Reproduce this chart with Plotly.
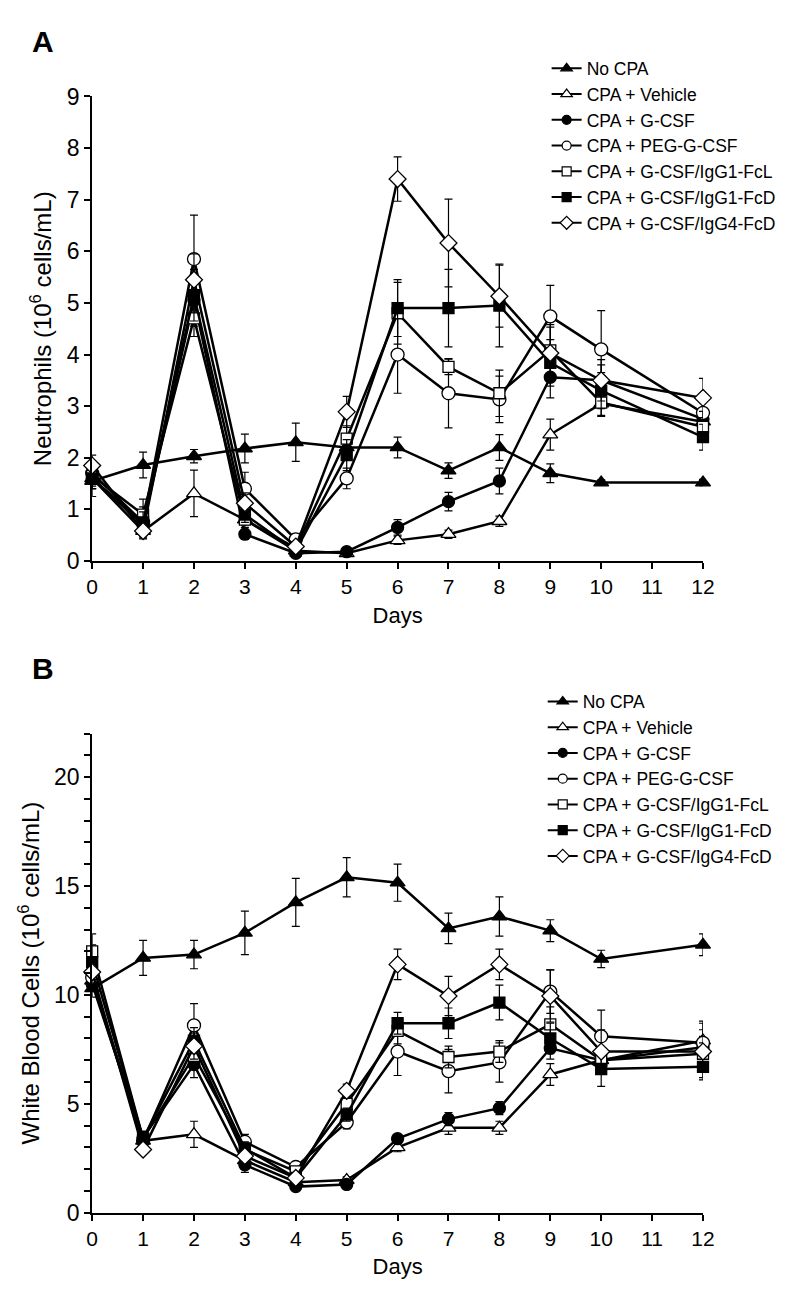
import plotly.graph_objects as go

days = [0, 1, 2, 3, 4, 5, 6, 7, 8, 9, 10, 12]
x_ticks = list(range(0, 13))

names = ["No CPA", "CPA + Vehicle", "CPA + G-CSF", "CPA + PEG-G-CSF",
         "CPA + G-CSF/IgG1-FcL", "CPA + G-CSF/IgG1-FcD", "CPA + G-CSF/IgG4-FcD"]

# Panel A: Neutrophils (10^6 cells/mL)
A_nocpa = [1.55, 1.86, 2.03, 2.18, 2.30, 2.20, 2.20, 1.75, 2.20, 1.70, 1.52, 1.52]
A_nocpa_err = [0.30, 0.25, 0.13, 0.28, 0.37, 0.15, 0.20, 0.15, 0.25, 0.18, 0.05, 0.06]
A_vehicle = [1.60, 0.58, 1.31, 0.80, 0.20, 0.15, 0.40, 0.52, 0.77, 2.45, 3.05, 2.70]
A_vehicle_err = [0.20, 0.10, 0.45, 0.10, 0.05, 0.05, 0.08, 0.08, 0.10, 0.30, 0.25, 0.20]
A_gcsf = [1.60, 0.70, 5.05, 0.52, 0.15, 0.18, 0.65, 1.15, 1.55, 3.56, 3.50, 2.75]
A_gcsf_err = [0.20, 0.15, 0.50, 0.10, 0.05, 0.05, 0.15, 0.18, 0.25, 0.40, 0.30, 0.20]
A_peg = [1.70, 0.75, 5.85, 1.40, 0.42, 1.60, 4.00, 3.25, 3.13, 4.74, 4.10, 2.87]
A_peg_err = [0.20, 0.30, 0.85, 0.32, 0.10, 0.20, 0.75, 0.67, 0.45, 0.60, 0.75, 0.30]
A_fcl = [1.65, 0.90, 4.70, 0.80, 0.25, 2.37, 4.80, 3.76, 3.25, 4.08, 3.07, 2.60]
A_fcl_err = [0.20, 0.30, 0.35, 0.15, 0.05, 0.25, 0.60, 0.15, 0.45, 0.50, 0.25, 0.30]
A_fcd = [1.60, 0.75, 5.15, 0.90, 0.20, 2.05, 4.90, 4.90, 4.95, 3.84, 3.30, 2.40]
A_fcd_err = [0.20, 0.20, 0.50, 0.15, 0.05, 0.30, 0.55, 0.75, 0.80, 0.45, 0.35, 0.25]
A_igg4 = [1.85, 0.58, 5.45, 1.12, 0.28, 2.89, 7.40, 6.16, 5.13, 4.03, 3.50, 3.16]
A_igg4_err = [0.20, 0.15, 0.50, 0.20, 0.05, 0.30, 0.43, 0.85, 0.60, 0.50, 0.40, 0.38]

# Panel B: White Blood Cells (10^6 cells/mL)
B_nocpa = [10.30, 11.70, 11.85, 12.85, 14.25, 15.40, 15.15, 13.05, 13.60, 12.95, 11.65, 12.30]
B_nocpa_err = [0.40, 0.80, 0.65, 1.00, 1.10, 0.90, 0.85, 0.70, 0.90, 0.50, 0.40, 0.50]
B_vehicle = [10.65, 3.30, 3.60, 2.40, 1.40, 1.50, 3.00, 3.90, 3.90, 6.35, 7.00, 7.90]
B_vehicle_err = [0.30, 0.20, 0.60, 0.30, 0.10, 0.15, 0.20, 0.30, 0.30, 0.50, 0.50, 0.50]
B_gcsf = [10.50, 3.45, 6.80, 2.20, 1.20, 1.30, 3.40, 4.30, 4.80, 7.55, 7.00, 7.60]
B_gcsf_err = [0.30, 0.30, 0.60, 0.35, 0.10, 0.10, 0.20, 0.30, 0.30, 0.50, 0.50, 0.50]
B_peg = [10.80, 3.30, 8.60, 3.25, 2.10, 4.15, 7.40, 6.50, 6.90, 10.15, 8.10, 7.80]
B_peg_err = [0.30, 0.30, 1.00, 0.35, 0.15, 0.30, 1.10, 1.00, 0.90, 1.00, 1.20, 1.00]
B_fcl = [12.00, 3.40, 7.20, 2.90, 1.90, 5.00, 8.35, 7.15, 7.40, 8.65, 7.00, 7.30]
B_fcl_err = [0.80, 0.30, 0.60, 0.30, 0.15, 0.30, 0.60, 0.50, 0.50, 0.80, 0.50, 0.50]
B_fcd = [11.50, 3.40, 7.90, 2.95, 1.60, 4.50, 8.70, 8.70, 9.65, 8.00, 6.60, 6.70]
B_fcd_err = [0.80, 0.30, 0.60, 0.30, 0.15, 0.30, 0.50, 0.70, 0.80, 0.70, 0.80, 0.50]
B_igg4 = [11.05, 2.90, 7.65, 2.60, 1.60, 5.60, 11.40, 9.95, 11.40, 9.95, 7.40, 7.40]
B_igg4_err = [0.50, 0.20, 0.60, 0.30, 0.15, 0.30, 0.70, 0.90, 0.70, 1.20, 1.00, 1.30]

A_vals = [A_nocpa, A_vehicle, A_gcsf, A_peg, A_fcl, A_fcd, A_igg4]
A_errs = [A_nocpa_err, A_vehicle_err, A_gcsf_err, A_peg_err, A_fcl_err, A_fcd_err, A_igg4_err]
B_vals = [B_nocpa, B_vehicle, B_gcsf, B_peg, B_fcl, B_fcd, B_igg4]
B_errs = [B_nocpa_err, B_vehicle_err, B_gcsf_err, B_peg_err, B_fcl_err, B_fcd_err, B_igg4_err]

symbols = ["triangle-up", "triangle-up", "circle", "circle", "square", "square", "diamond"]
fills = ["black", "white", "black", "white", "white", "black", "white"]
sizes = [13, 13, 12, 13, 11, 11, 13]
legend_sizes = [10, 10, 9, 9, 9, 9, 10]

FONT = "Liberation Sans, Arial, sans-serif"

fig = go.Figure()

for vals, errs, xa, ya, lg in [(A_vals, A_errs, "x", "y", "legend"),
                               (B_vals, B_errs, "x2", "y2", "legend2")]:
    for i in range(7):
        fig.add_trace(go.Scatter(
            x=days, y=vals[i], name=names[i], mode="lines+markers",
            xaxis=xa, yaxis=ya, showlegend=False, cliponaxis=False,
            line=dict(color="black", width=2.5),
            marker=dict(symbol=symbols[i], size=sizes[i], color=fills[i],
                        line=dict(color="black", width=1.3)),
            error_y=dict(type="data", array=errs[i], color="black",
                         thickness=1.2, width=4),
        ))
    # legend-only entries with smaller symbols, like the reference key
    for i in range(7):
        fig.add_trace(go.Scatter(
            x=[None], y=[None], name=names[i], mode="lines+markers",
            xaxis=xa, yaxis=ya, legend=lg, showlegend=True,
            line=dict(color="black", width=2),
            marker=dict(symbol=symbols[i], size=legend_sizes[i], color=fills[i],
                        line=dict(color="black", width=1.2)),
        ))

W, H = 793, 1304
xd = [80 / W, 705 / W]
yA = [1 - 551 / H, 1 - 77 / H]
yB = [1 - 1216 / H, 1 - 727 / H]

line_common = dict(showline=True, linecolor="black", linewidth=2, ticks="outside",
                   ticklen=6, tickwidth=2, tickcolor="black", showgrid=False,
                   zeroline=False)
xfont = dict(tickfont=dict(family=FONT, size=21, color="black"),
             title_font=dict(family=FONT, size=22, color="black"))
yfont = dict(tickfont=dict(family=FONT, size=23, color="black"),
             title_font=dict(family=FONT, size=24, color="black"))

legend_common = dict(xanchor="left", yanchor="top", bgcolor="rgba(0,0,0,0)",
                     itemwidth=30, itemsizing="trace",
                     font=dict(family=FONT, size=17.5, color="black"))

fig.update_layout(
    width=W, height=H, margin=dict(l=0, r=0, t=0, b=0),
    paper_bgcolor="white", plot_bgcolor="white",
    font=dict(family=FONT, color="black"),
    xaxis=dict(domain=xd, anchor="y", range=[0, 12], tickvals=x_ticks,
               title=dict(text="Days", standoff=10), **line_common, **xfont),
    yaxis=dict(domain=yA, anchor="x", range=[0, 9], dtick=1,
               title=dict(text="Neutrophils (10<sup>6</sup> cells/mL)", standoff=8),
               **line_common, **yfont),
    xaxis2=dict(domain=xd, anchor="y2", range=[0, 12], tickvals=x_ticks,
                title=dict(text="Days", standoff=10), **line_common, **xfont),
    yaxis2=dict(domain=yB, anchor="x2", range=[0, 22], tickvals=[0, 5, 10, 15, 20],
                minor=dict(dtick=1, ticks="outside", ticklen=6, tickwidth=2,
                           tickcolor="black"),
                title=dict(text="White Blood Cells (10<sup>6</sup> cells/mL)", standoff=8),
                **line_common, **yfont),
    legend=dict(x=545 / W, y=1 - 30 / H, **legend_common),
    legend2=dict(x=541 / W, y=1 - 676 / H, **legend_common),
    annotations=[
        dict(text="<b>A</b>", x=16 / W, y=1 - 2 / H, xref="paper", yref="paper",
             xanchor="left", yanchor="top", showarrow=False,
             font=dict(family=FONT, size=30, color="black")),
        dict(text="<b>B</b>", x=16 / W, y=1 - 642 / H, xref="paper", yref="paper",
             xanchor="left", yanchor="top", showarrow=False,
             font=dict(family=FONT, size=30, color="black")),
    ],
)

fig.write_html("out.html")
